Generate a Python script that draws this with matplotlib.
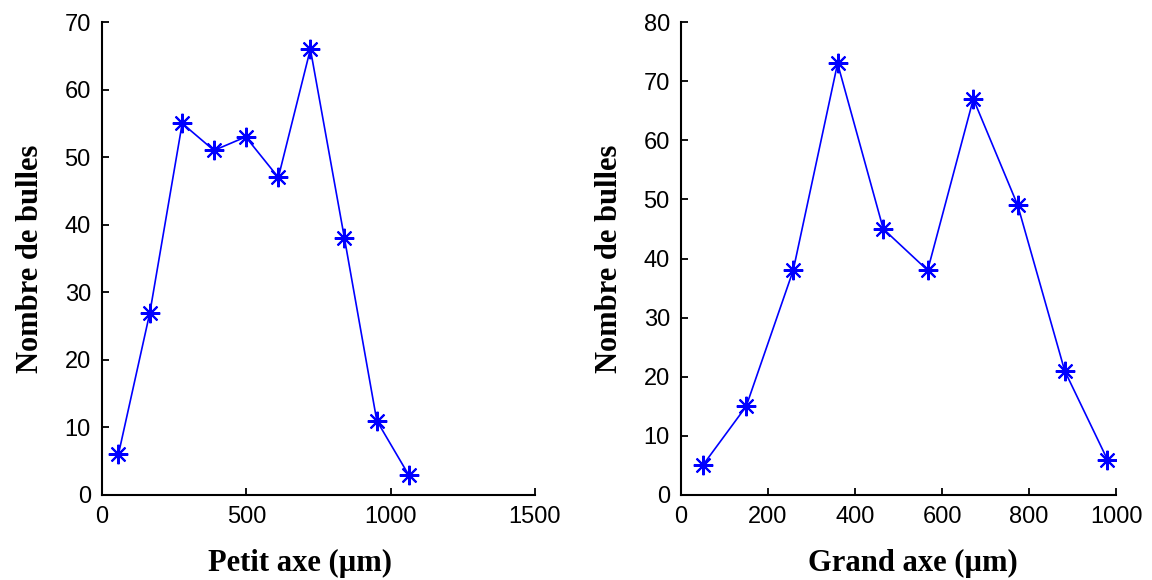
import matplotlib
matplotlib.use("Agg")
import matplotlib.pyplot as plt

# Left panel: petit axe
petit_x = [57, 166, 278, 388, 498, 611, 722, 840, 952, 1062]
petit_y = [6, 27, 55, 51, 53, 47, 66, 38, 11, 3]
petit_xticks = [0, 500, 1000, 1500]
petit_yticks = [0, 10, 20, 30, 40, 50, 60, 70]

# Right panel: grand axe
grand_x = [50, 150, 258, 360, 465, 567, 672, 774, 882, 980]
grand_y = [5, 15, 38, 73, 45, 38, 67, 49, 21, 6]
grand_xticks = [0, 200, 400, 600, 800, 1000]
grand_yticks = [0, 10, 20, 30, 40, 50, 60, 70, 80]

ylabel = "Nombre de bulles"
xlabels = ["Petit axe (\u00b5m)", "Grand axe (\u00b5m)"]

fig = plt.figure(figsize=(11.52, 5.8), dpi=100)
ax1 = fig.add_axes([0.0885, 0.1466, 0.3759, 0.8154])
ax2 = fig.add_axes([0.5911, 0.1466, 0.3777, 0.8154])

label_font = dict(family="Liberation Serif", fontweight="bold", fontsize=22)

for ax, xs, ys, xt, yt, xl, xlpos in [
    (ax1, petit_x, petit_y, petit_xticks, petit_yticks, xlabels[0], 0.458),
    (ax2, grand_x, grand_y, grand_xticks, grand_yticks, xlabels[1], 0.533),
]:
    ax.plot(xs, ys, color=(0, 0, 1), linewidth=1.2, marker=(8, 2, 0),
            markersize=14, markeredgewidth=1.5, markeredgecolor=(0, 0, 1))
    ax.set_xlim(xt[0], xt[-1])
    ax.set_ylim(yt[0], yt[-1])
    ax.set_xticks(xt)
    ax.set_yticks(yt)
    for s in ["top", "right"]:
        ax.spines[s].set_visible(False)
    for s in ["left", "bottom"]:
        ax.spines[s].set_linewidth(1.5)
        ax.spines[s].set_color("black")
    ax.tick_params(direction="in", length=5, width=1.3, labelsize=17)
    ax.tick_params(axis="x", pad=8)
    ax.tick_params(axis="y", pad=8)
    for lab in ax.get_xticklabels() + ax.get_yticklabels():
        lab.set_family("Liberation Sans")
    ax.set_xlabel(xl, labelpad=13, **label_font)
    ax.xaxis.set_label_coords(xlpos, -0.115)
    ax.xaxis.label.set_verticalalignment("top")
    ax.set_ylabel(ylabel, labelpad=14, **label_font)
    ax.patch.set_alpha(0)

fig.savefig("out.png", dpi=100)
